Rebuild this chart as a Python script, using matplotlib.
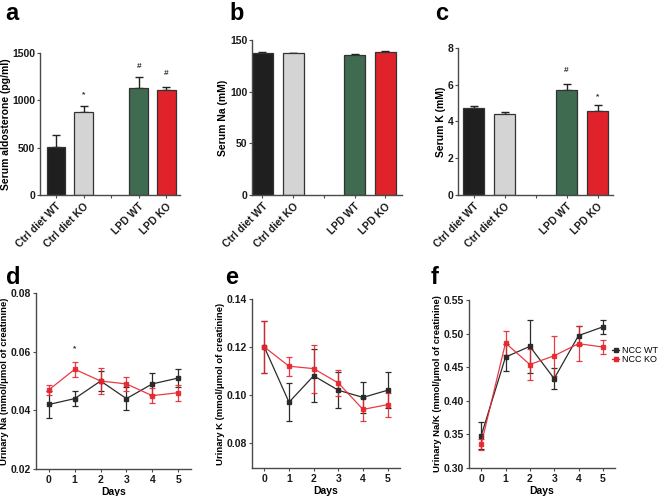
import matplotlib
matplotlib.use("Agg")
import matplotlib.pyplot as plt
from matplotlib.lines import Line2D
import numpy as np

plt.rcParams["font.family"] = ["Liberation Sans", "DejaVu Sans"]
plt.rcParams["font.weight"] = "bold"

W, H = 660, 496

# ---- bar panels (a, b, c) ----
groups = ["Ctrl diet WT", "Ctrl diet KO", "LPD WT", "LPD KO"]
bar_colors = ["#1f1f1f", "#d4d4d4", "#3f6b51", "#e0232b"]
bar_pos = [0, 1, 3, 4]

aldo_mean = [510, 875, 1135, 1110]
aldo_err = [125, 65, 110, 30]
na_mean = [137.5, 137.2, 135.3, 138.2]
na_err = [0.6, 0.5, 0.7, 0.8]
k_mean = [4.75, 4.4, 5.7, 4.55]
k_err = [0.12, 0.1, 0.35, 0.35]

# ---- line panels (d, e, f) ----
days = [0, 1, 2, 3, 4, 5]
una_wt = [0.042, 0.044, 0.050, 0.044, 0.049, 0.051]
una_wt_err = [0.0045, 0.0025, 0.0035, 0.004, 0.0037, 0.003]
una_ko = [0.047, 0.054, 0.050, 0.049, 0.045, 0.046]
una_ko_err = [0.0018, 0.0025, 0.0043, 0.0023, 0.0025, 0.0028]

uk_wt = [0.120, 0.097, 0.108, 0.102, 0.099, 0.102]
uk_wt_err = [0.011, 0.008, 0.011, 0.0075, 0.0065, 0.0075]
uk_ko = [0.120, 0.112, 0.111, 0.105, 0.094, 0.096]
uk_ko_err = [0.011, 0.004, 0.010, 0.0055, 0.0048, 0.005]

nak_wt = [0.348, 0.465, 0.481, 0.433, 0.497, 0.510]
nak_wt_err = [0.02, 0.02, 0.039, 0.016, 0.014, 0.01]
nak_ko = [0.335, 0.486, 0.454, 0.467, 0.485, 0.480]
nak_ko_err = [0.008, 0.018, 0.023, 0.03, 0.026, 0.011]

SPINE = "#4a4a4a"
WT_COLOR = "#2b2b2b"
KO_COLOR = "#e8262e"


def px_axes(fig, left, top, right, bottom):
    return fig.add_axes([left / W, 1 - bottom / H, (right - left) / W, (bottom - top) / H])


def style_axes(ax):
    for side in ("top", "right"):
        ax.spines[side].set_visible(False)
    for side in ("left", "bottom"):
        ax.spines[side].set_color(SPINE)
        ax.spines[side].set_linewidth(1.0)
    ax.tick_params(colors=SPINE, labelcolor="#1a1a1a", labelsize=7.5, length=2.5, width=0.8, pad=1)
    for lab in ax.get_yticklabels():
        lab.set_fontweight("bold")


def bar_panel(ax, mean, err, ylim, yticks, ylabel, xlim):
    ax.bar(bar_pos, mean, width=0.68, color=bar_colors, edgecolor="#333333", linewidth=0.9, zorder=2)
    ax.errorbar(bar_pos, mean, yerr=[np.zeros(len(err)), err], fmt="none",
                ecolor="#222222", elinewidth=1.0, capsize=3, capthick=1.0, zorder=1)
    ax.set_ylim(*ylim)
    ax.set_yticks(yticks)
    ax.set_xlim(*xlim)
    ax.set_xticks([0, 1, 2, 3, 4])
    ax.set_xticklabels([groups[0], groups[1], "", groups[2], groups[3]],
                       rotation=45, ha="right", rotation_mode="anchor", fontsize=7.5, fontweight="bold")
    ax.set_ylabel(ylabel, fontsize=7.5, fontweight="bold", labelpad=1)
    style_axes(ax)
    ax.tick_params(axis="x", pad=2)


def line_panel(ax, wt, wt_err, ko, ko_err, ylim, yticks, ylabel):
    ax.errorbar(days, wt, yerr=wt_err, color=WT_COLOR, lw=0.9, marker="s", ms=2.2,
                capsize=2.2, elinewidth=0.9, capthick=0.9)
    ax.errorbar(days, ko, yerr=ko_err, color=KO_COLOR, lw=0.9, marker="s", ms=2.2,
                capsize=2.2, elinewidth=0.9, capthick=0.9, alpha=0.9)
    ax.set_xlim(-0.5, 5.5)
    ax.set_xticks(days)
    ax.set_ylim(*ylim)
    ax.set_yticks(yticks)
    ax.set_ylabel(ylabel, fontsize=6.8, fontweight="bold", labelpad=1)
    ax.set_xlabel("Days", fontsize=7.5, fontweight="bold", labelpad=1)
    style_axes(ax)
    ax.tick_params(axis="x", pad=2)
    for lab in ax.get_xticklabels():
        lab.set_fontweight("bold")


fig = plt.figure(figsize=(W / 100, H / 100), dpi=100)

ax_a = px_axes(fig, 40, 53, 180, 195)
bar_panel(ax_a, aldo_mean, aldo_err, (0, 1500), [0, 500, 1000, 1500],
          "Serum aldosterone (pg/ml)", (-0.58, 4.49))
ax_a.text(1, 1060, "*", ha="center", va="center", fontsize=6, color="#333333")
ax_a.text(3, 1360, "#", ha="center", va="center", fontsize=6, color="#333333")
ax_a.text(4, 1280, "#", ha="center", va="center", fontsize=6, color="#333333")

ax_b = px_axes(fig, 252, 40, 402, 195)
bar_panel(ax_b, na_mean, na_err, (0, 150), [0, 50, 100, 150],
          "Serum Na (mM)", (-0.34, 4.54))

ax_c = px_axes(fig, 458, 48, 613, 195)
bar_panel(ax_c, k_mean, k_err, (0, 8), [0, 2, 4, 6, 8],
          "Serum K (mM)", (-0.5, 4.5))
ax_c.text(3, 6.8, "#", ha="center", va="center", fontsize=6, color="#333333")
ax_c.text(4, 5.35, "*", ha="center", va="center", fontsize=6, color="#333333")

ax_d = px_axes(fig, 36, 293, 191, 469)
line_panel(ax_d, una_wt, una_wt_err, una_ko, una_ko_err, (0.02, 0.08),
           [0.02, 0.04, 0.06, 0.08], "Urinary Na (mmol/\u03bcmol of creatinine)")
ax_d.text(1, 0.0609, "*", ha="center", va="center", fontsize=6, color="#333333")

ax_e = px_axes(fig, 252, 299, 400, 468)
line_panel(ax_e, uk_wt, uk_wt_err, uk_ko, uk_ko_err, (0.0696, 0.14),
           [0.08, 0.10, 0.12, 0.14], "Urinary K (mmol/\u03bcmol of creatinine)")

ax_f = px_axes(fig, 469, 300, 615, 468)
line_panel(ax_f, nak_wt, nak_wt_err, nak_ko, nak_ko_err, (0.30, 0.55),
           [0.30, 0.35, 0.40, 0.45, 0.50, 0.55], "Urinary Na/K (mmol/\u03bcmol of creatinine)")
handles = [Line2D([], [], color=WT_COLOR, lw=0.9, marker="s", ms=2.2),
           Line2D([], [], color=KO_COLOR, lw=0.9, marker="s", ms=2.2)]
leg = ax_f.legend(handles, ["NCC WT", "NCC KO"], loc="center left",
                  bbox_to_anchor=(0.98, 0.67), frameon=False, fontsize=6.5,
                  handlelength=0.8, handletextpad=0.3, labelspacing=0.0,
                  borderaxespad=0, borderpad=0)
for t in leg.get_texts():
    t.set_fontweight("normal")

for letter, x, y in [("a", 5, 13), ("b", 229, 13), ("c", 435, 13),
                     ("d", 6, 278), ("e", 225, 278), ("f", 431, 278)]:
    fig.text(x / W, 1 - y / H, letter, fontsize=17, fontweight="bold", va="center", ha="left")

fig.savefig("out.png", dpi=100)
